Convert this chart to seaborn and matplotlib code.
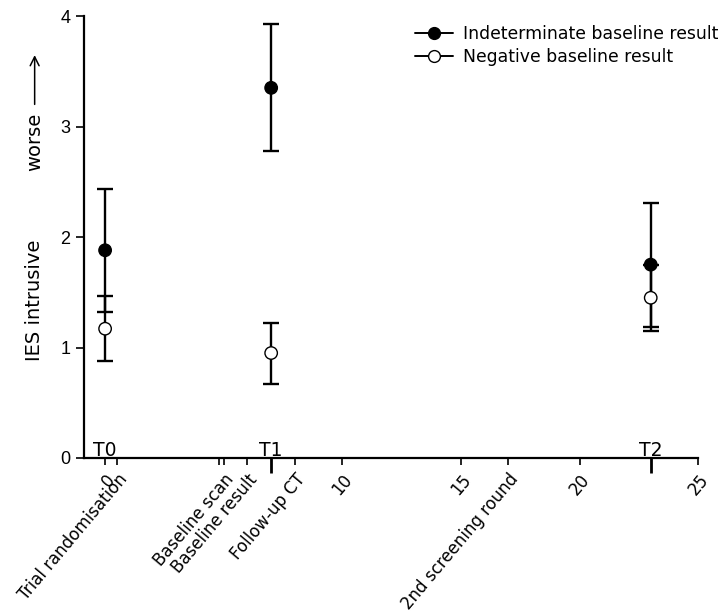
import matplotlib
matplotlib.use("Agg")
import matplotlib.pyplot as plt
from matplotlib.lines import Line2D
import seaborn as sns
import pandas as pd

# ---- data ----
timepoints = ["T0", "T1", "T2"]
time_x = [0, 7, 23]
indet_mean = [1.88, 3.35, 1.75]
indet_low = [1.32, 2.78, 1.19]
indet_high = [2.43, 3.93, 2.31]
neg_mean = [1.17, 0.95, 1.45]
neg_low = [0.88, 0.67, 1.15]
neg_high = [1.47, 1.22, 1.75]
series_names = ["Indeterminate baseline result", "Negative baseline result"]

tick_pos = [0, 0.5, 4.8, 5, 6, 8, 10, 15, 17, 20, 25]
tick_labels = ["0", "Trial randomisation", "", "Baseline scan", "Baseline result",
               "Follow-up CT", "10", "15", "2nd screening round", "20", "25"]

sns.set_style("ticks")
plt.rcParams["font.family"] = ["DejaVu Sans"]
for k in ["text.color", "xtick.color", "ytick.color", "axes.labelcolor", "axes.edgecolor"]:
    plt.rcParams[k] = "black"

df = pd.DataFrame({
    "time": time_x * 2,
    "score": indet_mean + neg_mean,
    "low": indet_low + neg_low,
    "high": indet_high + neg_high,
    "group": [series_names[0]] * 3 + [series_names[1]] * 3,
})

fig = plt.figure(figsize=(7.22, 6.16), dpi=100)
ax = fig.add_axes([0.116, 0.2565, 0.851, 0.7175])

# error bars
for g in series_names:
    sub = df[df["group"] == g]
    ax.errorbar(sub["time"], sub["score"],
                yerr=[sub["score"] - sub["low"], sub["high"] - sub["score"]],
                fmt="none", ecolor="black", elinewidth=1.7, capsize=5.5,
                capthick=1.7, zorder=2)

sns.scatterplot(data=df, x="time", y="score", hue="group", style="group",
                palette={series_names[0]: "black", series_names[1]: "white"},
                markers={series_names[0]: "o", series_names[1]: "o"},
                edgecolor="black", linewidth=1.0, s=80, ax=ax, zorder=3,
                legend=False)

ax.set_xlim(-0.9, 25)
ax.set_ylim(0, 4)
ax.set_yticks([0, 1, 2, 3, 4])
ax.set_yticklabels(["0", "1", "2", "3", "4"], fontfamily="Liberation Sans", fontsize=13)
ax.set_xticks(tick_pos)
ax.set_xticklabels(tick_labels, rotation=50, ha="right", rotation_mode="anchor",
                   fontsize=12)
ax.set_xticks(time_x, minor=True)
ax.tick_params(axis="x", which="major", length=5, width=1.2, pad=4)
ax.tick_params(axis="x", which="minor", length=11, width=2.0, direction="out")
ax.tick_params(axis="y", length=6, width=1.2)
ax.set_xlabel("")
ax.set_ylabel("")
sns.despine(ax=ax)
for sp in ["left", "bottom"]:
    ax.spines[sp].set_linewidth(1.6)

for name, xv in zip(timepoints, time_x):
    ax.text(xv, -0.02, name, ha="center", va="bottom", fontsize=13.5, clip_on=False)

# y label
fig.text(0.048, 0.513, "IES intrusive", rotation=90, ha="center", va="center", fontsize=14)
fig.text(0.048, 0.77, "worse", rotation=90, ha="center", va="center", fontsize=14)
ax.annotate("", xy=(0.048, 0.915), xytext=(0.048, 0.826), xycoords="figure fraction",
            textcoords="figure fraction",
            arrowprops=dict(arrowstyle="->", lw=1.1, color="black", mutation_scale=16))

handles = [
    Line2D([], [], color="black", marker="o", markerfacecolor="black",
           markeredgecolor="black", markersize=8.5, lw=1.4),
    Line2D([], [], color="black", marker="o", markerfacecolor="white",
           markeredgecolor="black", markersize=8.5, lw=1.4),
]
ax.legend(handles, series_names, loc="upper right", bbox_to_anchor=(1.058, 1.014),
          frameon=False, fontsize=12.4, handlelength=2.2, labelspacing=0.3,
          handletextpad=0.6)

fig.savefig("out.png", dpi=100)
